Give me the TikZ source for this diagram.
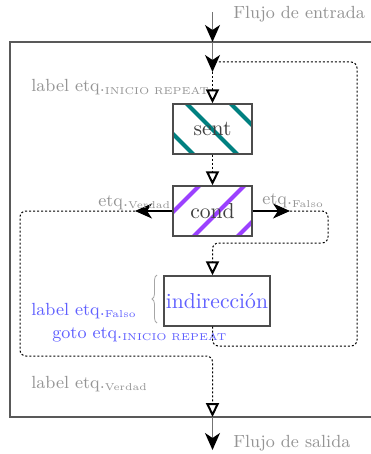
\documentclass[tikz,border=0pt]{standalone}
\usepackage{tikz}
\usetikzlibrary{arrows.meta,decorations.pathreplacing,backgrounds}
\usepackage{xcolor}
\definecolor{condviolet}{RGB}{155,65,255}
\definecolor{lblblue}{RGB}{95,95,255}
\newcommand{\etqsub}[1]{\raisebox{-0.35ex}{\fontsize{5}{6}\selectfont #1}}

\begin{document}
\begin{tikzpicture}[x=0.5pt, y=-0.5pt,
  box/.style={draw=black!70, line width=0.7pt, minimum width=39.5pt, minimum height=25pt, inner sep=1pt, font=\fontsize{10.8}{13}\selectfont, text=black!75},
  flw/.style={draw=black!55, line width=0.6pt, -{Stealth[length=8.5pt, width=7.5pt, inset=2.5pt, black]}},
  blk/.style={black, line width=0.6pt, -{Stealth[length=8.5pt, width=7.5pt, inset=2.5pt]}},
  dot/.style={black, line width=0.5pt, dash pattern=on 1pt off 1pt, rounded corners=3pt, -{Triangle[open, length=7pt, width=6.5pt, line width=1pt]}},
  lbl/.style={anchor=base west, inner sep=0pt, font=\fontsize{8.8}{10}\selectfont, text=black!42},
  hatch/.style={line width=2pt}]
\useasboundingbox (0,0) rectangle (370,454);

%% ── frame and flow in / out ─────────────────────────────
\draw[black!65, line width=0.7pt] (10,42) rectangle (372,417);
\coordinate (in0)  at (212.5,12);
\coordinate (in1)  at (212.5,42);
\coordinate (in2)  at (212.5,72);
\coordinate (lp)   at (212.5,62);
\coordinate (out1) at (212.5,417);
\coordinate (out2) at (212.5,450);
\draw[flw] (in0) -- (in1);
\draw[flw] (in1) -- (in2);
\draw[flw] (out1) -- (out2);
\node[lbl] at (233,19)  {Flujo de entrada};
\node[lbl] at (233,447) {Flujo de salida};

%% ── blocks ───────────────────────────────────────────────
\node[box] (sent)  at (212.5,129) {sent};
\node[box] (cond)  at (212.5,211) {cond};
\node[box, minimum width=53pt, text=lblblue] (indir) at (217,301) {indirección};

\begin{scope}[on background layer]
  \begin{scope}
    \clip (sent.south west) rectangle (sent.north east);
    \foreach \dd in {39,83,127}{\draw[hatch, teal] (\dd+90,90) -- (\dd+170,170);}
  \end{scope}
  \begin{scope}
    \clip (cond.south west) rectangle (cond.north east);
    \foreach \ss/\tt in {215/135,260/180,304/224}{\draw[hatch, condviolet] (\ss,170) -- (\tt,250);}
  \end{scope}
\end{scope}

%% ── branches ─────────────────────────────────────────────
\coordinate (vl) at (135,211);
\coordinate (fl) at (290,211);
\draw[blk] (cond.west) -- (vl);
\draw[blk] (cond.east) -- (fl);

\draw[dot] (in2) -- (sent.north);
\draw[dot] (sent.south) -- (cond.north);
\draw[dot] (fl) -- (328,211) -- (328,243) -- (212.5,243) -- (indir.north -| sent.north);
\draw[dot] (vl) -- (20,211) -- (20,356) -- (212.5,356) -- (out1);
\draw[dot, -] (indir.south -| sent.south) -- (212.5,346) -- (357,346) -- (357,62) -- (lp);

%% ── labels ───────────────────────────────────────────────
\node[lbl] at (31,92)   {label etq.\etqsub{INICIO REPEAT}};
\node[lbl] at (98,206)  {etq.\etqsub{Verdad}};
\node[lbl] at (262,205) {etq.\etqsub{Falso}};
\node[lbl, text=lblblue] at (31,315) {label etq.\etqsub{Falso}};
\node[lbl, text=lblblue] at (52,338) {goto etq.\etqsub{INICIO REPEAT}};
\node[lbl] at (31,388)  {label etq.\etqsub{Verdad}};
\draw[black!35, line width=0.4pt, decorate, decoration={brace, amplitude=2.5pt}] (157,323) -- (157,275);
\end{tikzpicture}
\end{document}
